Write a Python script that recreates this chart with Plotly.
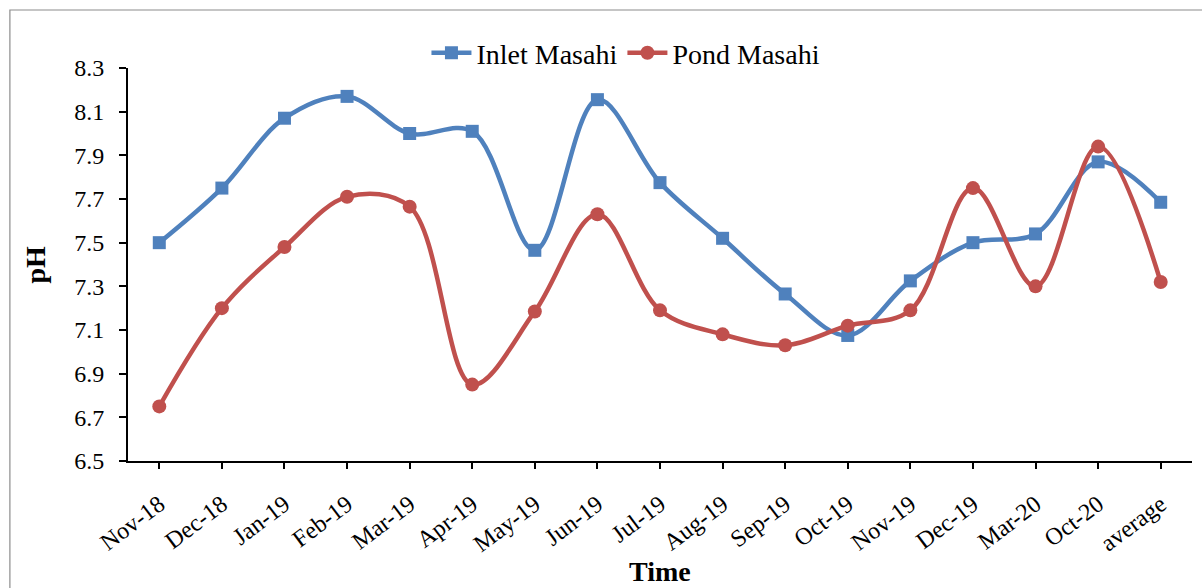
import plotly.graph_objects as go

categories = ["Nov-18", "Dec-18", "Jan-19", "Feb-19", "Mar-19", "Apr-19", "May-19", "Jun-19",
              "Jul-19", "Aug-19", "Sep-19", "Oct-19", "Nov-19", "Dec-19", "Mar-20", "Oct-20", "average"]
inlet_masahi = [7.50, 7.75, 8.07, 8.17, 8.00, 8.01, 7.465, 8.155, 7.775, 7.52, 7.265, 7.075,
                7.325, 7.50, 7.54, 7.87, 7.685]
pond_masahi = [6.75, 7.20, 7.48, 7.71, 7.665, 6.85, 7.185, 7.63, 7.19, 7.08, 7.03, 7.12,
               7.19, 7.75, 7.30, 7.94, 7.32]
y_ticks = [6.5, 6.7, 6.9, 7.1, 7.3, 7.5, 7.7, 7.9, 8.1, 8.3]

idx = list(range(len(categories)))
FONT = "Liberation Serif"
BLUE = "#4F81BD"
RED = "#C0504D"

fig = go.Figure()
fig.add_trace(go.Scatter(
    x=idx, y=inlet_masahi, name="Inlet Masahi", mode="lines+markers",
    line=dict(color=BLUE, width=4.5, shape="spline", smoothing=1.0),
    marker=dict(symbol="square", size=13, color=BLUE),
))
fig.add_trace(go.Scatter(
    x=idx, y=pond_masahi, name="Pond Masahi", mode="lines+markers",
    line=dict(color=RED, width=4.5, shape="spline", smoothing=1.0),
    marker=dict(symbol="circle", size=14, color=RED),
))

tick_positions = idx + [len(categories) - 0.5]

fig.update_layout(
    width=1202, height=588,
    margin=dict(l=128, r=10, t=68, b=127),
    paper_bgcolor="white", plot_bgcolor="white",
    font=dict(family=FONT, color="black", size=24),
    showlegend=True,
    legend=dict(orientation="h", x=0.468, xanchor="center", y=1.038, yanchor="middle",
                font=dict(family=FONT, size=28, color="black"),
                itemwidth=40, bgcolor="rgba(0,0,0,0)"),
    xaxis=dict(
        range=[-0.5, len(categories) - 0.5], tickmode="array", tickvals=idx, ticktext=categories,
        tickangle=-37, ticks="outside", ticklen=6, tickwidth=2, tickcolor="black",
        showline=True, linecolor="black", linewidth=2, showgrid=False, zeroline=False,
        tickfont=dict(family=FONT, size=24), ticklabelstandoff=12,
    ),
    xaxis2=dict(
        overlaying="x", matches="x", range=[-0.5, len(categories) - 0.5], tickmode="array",
        tickvals=tick_positions, ticks="inside", ticklen=6, tickwidth=2, tickcolor="black",
        showticklabels=False, showgrid=False, zeroline=False, showline=False, side="bottom",
        anchor="y",
    ),
    yaxis=dict(
        range=[6.5, 8.3], tickmode="array", tickvals=y_ticks,
        ticktext=[f"{v:.1f}" for v in y_ticks],
        ticks="outside", ticklen=7, tickwidth=2, tickcolor="black",
        showline=True, linecolor="black", linewidth=2, showgrid=False, zeroline=False,
        tickfont=dict(family=FONT, size=24), ticklabelstandoff=10,
    ),
    annotations=[
        dict(text="<b>Time</b>", xref="paper", yref="paper", x=0.5, y=-0.2824,
             xanchor="center", yanchor="middle", showarrow=False,
             font=dict(family=FONT, size=28, color="black")),
        dict(text="<b>pH</b>", xref="paper", yref="paper", x=-0.0874, y=0.5,
             xanchor="center", yanchor="middle", showarrow=False, textangle=-90,
             font=dict(family=FONT, size=28, color="black")),
    ],
    shapes=[dict(type="rect", xref="paper", yref="paper",
                 x0=-0.111, x1=1.2, y0=-0.6, y1=1.1476,
                 line=dict(color="#8c8c8c", width=1.2), fillcolor="rgba(0,0,0,0)", layer="below")],
)

fig.write_html("out.html")
